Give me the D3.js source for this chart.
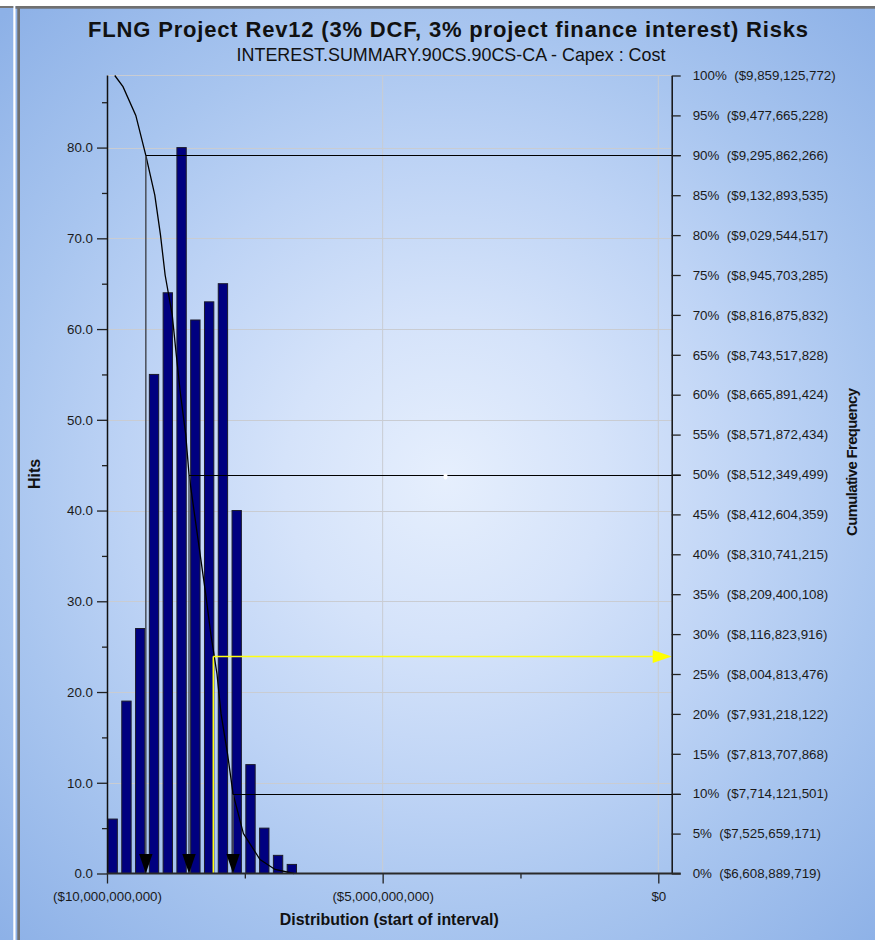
<!DOCTYPE html>
<html>
<head>
<meta charset="utf-8">
<script src="https://cdn.jsdelivr.net/npm/d3@7"></script>
<style>
  html, body { margin: 0; padding: 0; background: #ffffff; }
  svg { display: block; font-family: "Liberation Sans", Arial, Helvetica, sans-serif; }
</style>
</head>
<body>
<svg id="chart" width="875" height="940"></svg>
<script>
// ---- Data -------------------------------------------------------------
// Histogram: start of each interval (negated cost) and the number of hits in it
const binStarts = [-10.00e9, -9.75e9, -9.50e9, -9.25e9, -9.00e9, -8.75e9, -8.50e9,
                   -8.25e9, -8.00e9, -7.75e9, -7.50e9, -7.25e9, -7.00e9, -6.75e9];
const binWidth = 0.25e9;
const hits = [6, 19, 27, 55, 64, 80, 61, 63, 65, 40, 12, 5, 2, 1];

// Cumulative frequency percentiles and their cost values
const cumPct = [0, 5, 10, 15, 20, 25, 30, 35, 40, 45, 50,
                55, 60, 65, 70, 75, 80, 85, 90, 95, 100];
const cumCost = [6608889719, 7525659171, 7714121501, 7813707868, 7931218122,
                 8004813476, 8116823916, 8209400108, 8310741215, 8412604359,
                 8512349499, 8571872434, 8665891424, 8743517828, 8816875832,
                 8945703285, 9029544517, 9132893535, 9295862266, 9477665228,
                 9859125772];
// Additional points along the cumulative curve [cost, percent]
const curveExtra = [[6.952e9, 0.5], [7.224e9, 1.75], [9.71e9, 98.6]];

// Percentile markers drawn with reference lines
const markerPcts = [90, 50, 10];
// Cursor position (cost, percent)
const cursorCost = 8.072e9;
const cursorPct = 27.2;

// Axis ticks
const hitTicks = [0, 10, 20, 30, 40, 50, 60, 70, 80];
const hitMinorTicks = [5, 15, 25, 35, 45, 55, 65, 75, 85];
const xTicks = [-10e9, -5e9, 0];
const xMinorTicks = [-7.5e9, -2.5e9];

const titleText = "FLNG Project Rev12 (3% DCF, 3% project finance interest) Risks";
const subtitleText = "INTEREST.SUMMARY.90CS.90CS-CA - Capex : Cost";

// ---- Layout -----------------------------------------------------------
const W = 875, H = 940;
const plot = { left: 107, right: 671.7, top: 75, bottom: 873.5 };

const svg = d3.select("#chart");
const defs = svg.append("defs");

const grad = defs.append("radialGradient")
  .attr("id", "bg").attr("gradientUnits", "userSpaceOnUse")
  .attr("cx", 445).attr("cy", 478).attr("r", 640);
[[0, "#e6effd"], [0.25, "#d5e3fa"], [0.5, "#bdd3f5"], [0.7, "#a8c5ef"], [1, "#8db1e7"]]
  .forEach(([o, c]) => grad.append("stop").attr("offset", o).attr("stop-color", c));

// Panels
svg.append("rect").attr("x", 0).attr("y", 6).attr("width", 13.3).attr("height", H - 6).attr("fill", "url(#bg)");
svg.append("rect").attr("x", 0).attr("y", 6).attr("width", 13.3).attr("height", 2).attr("fill", "#747474");
svg.append("rect").attr("x", 15.5).attr("y", 6).attr("width", W - 15.5).attr("height", H - 6).attr("fill", "url(#bg)");
svg.append("rect").attr("x", 15.5).attr("y", 6).attr("width", W - 15.5).attr("height", 2.7).attr("fill", "#707070");
svg.append("rect").attr("x", 17.3).attr("y", 6).attr("width", 2.7).attr("height", H - 6).attr("fill", "#707070");

// ---- Scales -----------------------------------------------------------
const x = d3.scaleLinear().domain([-10e9, 0]).range([107, 658.3]);
const y = d3.scaleLinear().domain([0, 88]).range([plot.bottom, plot.top]);
const yR = d3.scaleLinear().domain([0, 100]).range([plot.bottom, plot.top + 0.5]);

const money = v => "$" + d3.format(",")(Math.round(v));
const costAt = p => cumCost[cumPct.indexOf(p)];

// ---- Grid -------------------------------------------------------------
const grid = svg.append("g").attr("stroke", "#c9ccd2").attr("stroke-width", 1);
grid.selectAll("line.h").data(hitTicks.slice(1).concat([88])).join("line")
  .attr("x1", plot.left).attr("x2", plot.right)
  .attr("y1", d => Math.round(y(d)) + 0.5).attr("y2", d => Math.round(y(d)) + 0.5);
grid.selectAll("line.v").data([-5e9, 0]).join("line")
  .attr("x1", d => x(d)).attr("x2", d => x(d))
  .attr("y1", plot.top).attr("y2", plot.bottom);

// ---- Bars -------------------------------------------------------------
const binPx = x(binStarts[0] + binWidth) - x(binStarts[0]);
svg.append("g").selectAll("rect").data(binStarts).join("rect")
  .attr("x", d => x(d) + 1)
  .attr("width", binPx * 0.75 - 1)
  .attr("y", (d, i) => y(hits[i]))
  .attr("height", (d, i) => y(0) - y(hits[i]))
  .attr("fill", "#000080")
  .attr("stroke", "#1c1c2c")
  .attr("stroke-width", 1);

// ---- Cumulative curve -------------------------------------------------
const curvePts = cumCost.map((c, i) => [c, cumPct[i]]).concat(curveExtra)
  .sort((a, b) => a[0] - b[0]);
svg.append("path")
  .datum(curvePts)
  .attr("fill", "none")
  .attr("stroke", "#000")
  .attr("stroke-width", 1.3)
  .attr("d", d3.line().x(d => x(-d[0])).y(d => yR(d[1])));

// ---- Percentile reference lines ---------------------------------------
const refs = svg.append("g");
markerPcts.forEach(p => {
  const px = x(-costAt(p));
  const py = Math.round(yR(p)) + 0.5;
  refs.append("line")
    .attr("x1", px).attr("x2", px).attr("y1", plot.bottom).attr("y2", py)
    .attr("stroke", "#4a4f58").attr("stroke-width", 1.5);
  refs.append("line")
    .attr("x1", px).attr("x2", plot.right + 9).attr("y1", py).attr("y2", py)
    .attr("stroke", "#000").attr("stroke-width", 1.2);
});

// Cursor (yellow)
const cx = x(-cursorCost), cy = yR(cursorPct);
svg.append("line").attr("x1", cx).attr("x2", cx).attr("y1", plot.bottom).attr("y2", cy)
  .attr("stroke", "#ffff10").attr("stroke-width", 1.5);
svg.append("line").attr("x1", cx).attr("x2", plot.right - 16).attr("y1", cy).attr("y2", cy)
  .attr("stroke", "#ffff10").attr("stroke-width", 1.5);
svg.append("path")
  .attr("d", `M${plot.right},${cy} L${plot.right - 19},${cy - 6.5} L${plot.right - 19},${cy + 6.5} Z`)
  .attr("fill", "#ffff00");

// Small bright spot of the backdrop
svg.append("ellipse").attr("cx", 445.5).attr("cy", 476.5).attr("rx", 2).attr("ry", 3)
  .attr("fill", "#ffffff");

// ---- Axes -------------------------------------------------------------
function styleAxis(g) {
  g.selectAll(".tick line").attr("stroke", "#222").attr("stroke-width", 1.3);
  g.selectAll(".tick text").attr("fill", "#1a1a1a").attr("font-size", "13.33px");
  g.select(".domain").attr("stroke", "#111").attr("stroke-width", 1.5);
}

// Left (hits)
svg.append("g").attr("transform", `translate(${plot.left},0)`)
  .call(d3.axisLeft(y).tickValues(hitTicks).tickSize(10).tickSizeOuter(0).tickPadding(4)
    .tickFormat(d3.format(".1f")))
  .call(styleAxis)
  .call(g => g.attr("font-family", null));
svg.append("g").attr("transform", `translate(${plot.left},0)`)
  .call(d3.axisLeft(y).tickValues(hitMinorTicks).tickSize(5).tickSizeOuter(0).tickFormat(""))
  .call(styleAxis)
  .call(g => g.select(".domain").remove());

// Right (cumulative frequency)
svg.append("g").attr("transform", `translate(${plot.right},0)`)
  .call(d3.axisRight(yR).tickValues(cumPct).tickSize(9).tickSizeOuter(0).tickPadding(12)
    .tickFormat(p => `${p}%  (${money(costAt(p))})`))
  .call(styleAxis)
  .call(g => g.selectAll(".tick text").style("white-space", "pre"))
  .call(g => g.attr("font-family", null));

// Bottom (distribution)
svg.append("g").attr("transform", `translate(0,${plot.bottom})`)
  .call(d3.axisBottom(x).tickValues(xTicks).tickSize(10).tickSizeOuter(0).tickPadding(8)
    .tickFormat(v => v < 0 ? `(${money(-v)})` : money(v)))
  .call(styleAxis)
  .call(g => g.select(".domain").remove())
  .call(g => g.attr("font-family", null));
svg.append("g").attr("transform", `translate(0,${plot.bottom})`)
  .call(d3.axisBottom(x).tickValues(xMinorTicks).tickSize(5).tickSizeOuter(0).tickFormat(""))
  .call(styleAxis)
  .call(g => g.select(".domain").remove());
svg.append("line")
  .attr("x1", plot.left).attr("x2", plot.right + 9)
  .attr("y1", plot.bottom).attr("y2", plot.bottom)
  .attr("stroke", "#2a2a2a").attr("stroke-width", 2);

// Percentile markers (down triangles on the baseline)
svg.append("g").selectAll("path").data(markerPcts).join("path")
  .attr("d", p => {
    const px = x(-costAt(p));
    return `M${px - 6.7},${plot.bottom - 19.5} L${px + 6.7},${plot.bottom - 19.5} L${px},${plot.bottom} Z`;
  })
  .attr("fill", "#000");

// ---- Titles -----------------------------------------------------------
svg.append("text").attr("x", 448.5).attr("y", 37)
  .attr("text-anchor", "middle").attr("font-size", "22px").attr("font-weight", "bold")
  .attr("letter-spacing", "0.82px").attr("fill", "#111")
  .text(titleText);
svg.append("text").attr("x", 451).attr("y", 61)
  .attr("text-anchor", "middle").attr("font-size", "17.9px").attr("fill", "#111")
  .text(subtitleText);

svg.append("text").attr("x", (plot.left + plot.right) / 2).attr("y", 925)
  .attr("text-anchor", "middle").attr("font-size", "15.9px").attr("font-weight", "bold").attr("fill", "#111")
  .text("Distribution (start of interval)");
svg.append("text").attr("transform", `translate(40,474) rotate(-90)`)
  .attr("text-anchor", "middle").attr("font-size", "16px").attr("font-weight", "bold").attr("fill", "#111")
  .text("Hits");
svg.append("text").attr("transform", `translate(857,462) rotate(-90)`)
  .attr("text-anchor", "middle").attr("font-size", "15px").attr("font-weight", "bold").attr("fill", "#111")
  .attr("textLength", 148).attr("lengthAdjust", "spacing")
  .text("Cumulative Frequency");
</script>
</body>
</html>
